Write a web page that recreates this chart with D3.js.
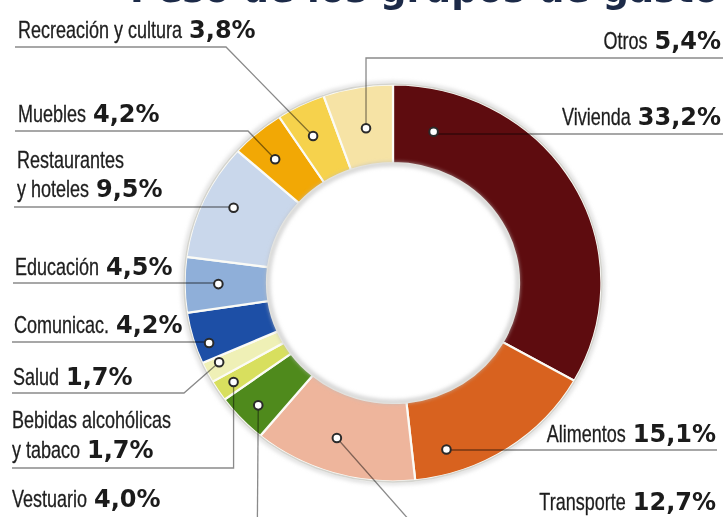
<!DOCTYPE html>
<html><head><meta charset="utf-8">
<script src="https://cdn.jsdelivr.net/npm/d3@7"></script>
<style>body{margin:0;background:#fff}svg{display:block}</style>
</head><body><svg id="c" width="726" height="517"></svg>
<script>
// ---- data ----
const title = "Peso de los grupos de gasto";
const categories = ["Vivienda","Alimentos","Transporte","Vestuario","Bebidas alcohólicas y tabaco","Salud","Comunicac.","Educación","Restaurantes y hoteles","Muebles","Recreación y cultura","Otros"];
const nameLines = [["Vivienda"],["Alimentos"],["Transporte"],["Vestuario"],["Bebidas alcohólicas","y tabaco"],["Salud"],["Comunicac."],["Educación"],["Restaurantes","y hoteles"],["Muebles"],["Recreación y cultura"],["Otros"]];
const values = [33.2,15.1,12.7,4.0,1.7,1.7,4.2,4.5,9.5,4.2,3.8,5.4];
const valueLabels = ["33,2%","15,1%","12,7%","4,0%","1,7%","1,7%","4,2%","4,5%","9,5%","4,2%","3,8%","5,4%"];
const colors = ["#5e0c0f","#d8621f","#eeb59c","#4f8a1c","#d8df5e","#eff0b6","#1d4fa6","#8fafd9","#c9d7eb","#f2a805","#f6d24c","#f6e3a5"];

// ---- layout (label placement) ----
const W = 726, H = 517;
const cx = 393, cy = 283, ro = 198.5, ri = 120, sx = 1.05;
const nameScale = 0.75, gap = 7;
const layout = [
  {frac:0.12, rf:0.46, x:721, ys:[125], anchor:"end", lineY:134, lineX:723, bend:"dot"},
  {frac:0.80, rf:0.69, x:716, ys:[442], anchor:"end", lineY:450, lineX:717, bend:"dot"},
  {frac:0.55, rf:0.56, x:716, ys:[510], anchor:"end", ray:[418,530]},
  {frac:0.47, rf:0.73, x:12, ys:[507], anchor:"start", ray:"down"},
  {frac:0.475, rf:0.78, x:12, ys:[428,458], anchor:"start", lineY:468, lineX:12, bend:"dotx"},
  {frac:0.70, rf:0.81, x:13, ys:[385], anchor:"start", lineY:393, lineX:12, bend:184},
  {frac:0.32, rf:0.83, x:14, ys:[333], anchor:"start", lineY:342, lineX:12, bend:"dot"},
  {frac:0.51, rf:0.59, x:15, ys:[275], anchor:"start", lineY:283, lineX:13, bend:"dot"},
  {frac:0.55, rf:0.63, x:17, ys:[168,197], anchor:"start", lineY:207, lineX:14, bend:"dot"},
  {frac:0.40, rf:0.60, x:18, ys:[122], anchor:"start", lineY:131, lineX:15, bend:248},
  {frac:0.42, rf:0.58, x:18, ys:[38], anchor:"start", lineY:47, lineX:15, bend:226},
  {frac:0.515, rf:0.47, x:721, ys:[49], anchor:"end", lineY:58, lineX:723, bend:"dotx"}
];

const svg = d3.select("#c");
const defs = svg.append("defs");
defs.append("filter").attr("id","blur").attr("x","-20%").attr("y","-20%").attr("width","140%").attr("height","140%")
  .append("feGaussianBlur").attr("stdDeviation",2.2);

// title (cut off at top as in reference)
svg.append("text").attr("x",719).attr("y",2).attr("text-anchor","end")
  .attr("font-family","DejaVu Sans").attr("font-weight","bold").attr("font-size",37)
  .attr("fill","#1c2a48").text(title);

const pie = d3.pie().sort(null).value(d => d)(values);
const arc = d3.arc().innerRadius(ri).outerRadius(ro);

// ring shadow/border
svg.append("ellipse").attr("cx",cx).attr("cy",cy).attr("rx",(ro+1.5)*sx).attr("ry",ro+1.5)
  .attr("fill","none").attr("stroke","#c9c9c9").attr("stroke-width",2.5).attr("filter","url(#blur)");

const g = svg.append("g").attr("transform",`translate(${cx},${cy}) scale(${sx},1)`);
g.selectAll("path.seg").data(pie).join("path").attr("class","seg")
  .attr("d",arc).attr("fill",(d,i)=>colors[i])
  .attr("stroke","#fbfbf6").attr("stroke-width",2.2).attr("vector-effect","non-scaling-stroke");

// inner shadow
svg.append("ellipse").attr("cx",cx).attr("cy",cy).attr("rx",(ri-1)*sx).attr("ry",ri-1)
  .attr("fill","none").attr("stroke","#bdbdbd").attr("stroke-width",3).attr("filter","url(#blur)");
svg.append("ellipse").attr("cx",cx).attr("cy",cy).attr("rx",(ro+0.5)*sx).attr("ry",ro+0.5)
  .attr("fill","none").attr("stroke","#d4d4cf").attr("stroke-width",1.5);

// dot positions from arcs
const dots = pie.map((d,i) => {
  const L = layout[i];
  const a = d.startAngle + L.frac*(d.endAngle - d.startAngle);
  const r = ri + L.rf*(ro - ri);
  return [cx + sx*r*Math.sin(a), cy - r*Math.cos(a)];
});

// leaders
const lineGen = d3.line();
const leaders = svg.append("g").style("mix-blend-mode","multiply");
layout.forEach((L,i) => {
  const p = dots[i];
  let pts;
  if (L.ray === "down") pts = [p, [p[0]-1, H+20]];
  else if (L.ray) pts = [p, L.ray];
  else if (L.bend === "dot" || L.bend === "dotx") pts = [[L.lineX, L.lineY], [p[0], L.lineY], p];
  else pts = [[L.lineX, L.lineY], [L.bend, L.lineY], p];
  leaders.append("path").attr("d", lineGen(pts)).attr("fill","none")
    .attr("stroke","#8a8a8a").attr("stroke-width",1.3);
});

// dots
svg.selectAll("circle.dot").data(dots).join("circle").attr("class","dot")
  .attr("cx",d=>d[0]).attr("cy",d=>d[1]).attr("r",4.3)
  .attr("fill","#fff").attr("stroke","#2a2a2a").attr("stroke-width",2);

// labels: condensed name + bold value
layout.forEach((L,i) => {
  const lines = nameLines[i];
  lines.forEach((ln,j) => {
    const grp = svg.append("g");
    const nameT = grp.append("text").attr("font-family","Liberation Sans").attr("font-size",24)
      .attr("fill","#1e1e1e").attr("stroke","#1e1e1e").attr("stroke-width",0.3).text(ln);
    const nw = nameT.node().getComputedTextLength()*nameScale;
    let vw = 0, valT = null;
    if (j === lines.length-1) {
      valT = grp.append("text").attr("font-family","DejaVu Sans").attr("font-weight","bold")
        .attr("font-size",24).attr("fill","#1b1b1b").text(valueLabels[i]);
      vw = valT.node().getComputedTextLength();
    }
    const total = nw + (valT ? gap + vw : 0);
    const x0 = L.anchor === "end" ? L.x - total : L.x;
    const y = L.ys[j];
    nameT.attr("transform",`translate(${x0},${y}) scale(${nameScale},1)`);
    if (valT) valT.attr("x", x0 + nw + gap).attr("y", y);
  });
});
</script></body></html>
